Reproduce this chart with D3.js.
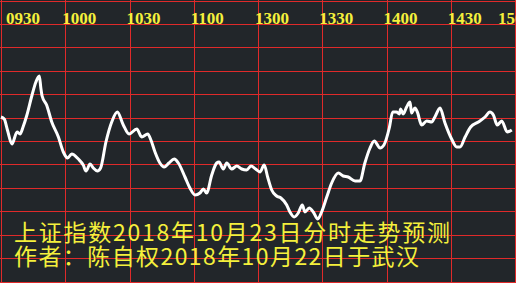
<!DOCTYPE html>
<html>
<head>
<meta charset="utf-8">
<script src="https://cdn.jsdelivr.net/npm/d3@7"></script>
<style>
  html, body { margin: 0; padding: 0; background: #22262a; }
  svg { display: block; }
</style>
</head>
<body>
<div id="chart"></div>
<script>
"use strict";

// time axis labels (every 30 min of the session)
var timeLabels = ["0930", "1000", "1030", "1100", "1300", "1330", "1400", "1430", "1500"];

// minutes since 09:30 (trading minutes) and predicted index level
var minutes = [0, 1.5, 3, 5.1, 7.5, 8.9, 10.3, 12.1, 14.5, 16.3, 17.9, 18.6, 19.2,
  21.3, 23.7, 26.8, 29.1, 31.1, 33.0, 36.1, 38.4, 39.7, 41.6, 43.1, 45.0, 46.5,
  49.0, 51.7, 54.3, 57.1, 59.8, 63.4, 65.7, 68.5, 70.0, 71.9, 74.2, 76.2, 78.4,
  80.9, 82.8, 85.9, 88.2, 90.6, 92.9, 94.5, 96.0, 98.4, 100.7, 101.8, 103.8,
  105.4, 107.7, 110.1, 112.4, 114.7, 116.7, 118.9, 120.9, 122.9, 124.5, 126.4,
  128.7, 130.7, 133.4, 134.9, 136.9, 138.8, 140.7, 141.9, 143.9, 145.8, 147.9,
  149.7, 152.1, 154.4, 157.5, 159.8, 162.1, 165.3, 167.6, 169.9, 172.3, 174.3,
  177.0, 178.8, 181.3, 182.9, 184.7, 186.0, 186.6, 187.8, 189.4, 191.0, 191.7,
  193.3, 194.4, 196.4, 198.8, 201.1, 202.6, 205.0, 207.3, 210.4, 212.8, 214.3,
  216.7, 219.3, 222.9, 226.0, 228.3, 229.9, 231.7, 233.8, 236.4, 238.5];

var levels = [2583, 2581, 2570, 2556, 2568, 2566, 2573, 2585, 2605, 2618, 2624, 2612, 2604,
  2595, 2578, 2563, 2548, 2542, 2546, 2541, 2535, 2529, 2536, 2532, 2529, 2532,
  2558, 2578, 2588, 2575, 2566, 2571, 2563, 2566, 2560, 2548, 2537, 2533, 2537,
  2541, 2537, 2523, 2512, 2505, 2507, 2511, 2507, 2525, 2537, 2538, 2531,
  2537, 2531, 2534, 2531, 2530, 2534, 2531, 2528, 2535, 2523, 2510,
  2504, 2502, 2495, 2488, 2483, 2487, 2495, 2488, 2492, 2488, 2481,
  2488, 2503, 2517, 2527, 2524, 2523, 2519, 2519, 2537, 2552, 2559,
  2552, 2555, 2572, 2588, 2588, 2586, 2591, 2586, 2593, 2598, 2587,
  2592, 2588, 2575, 2579, 2578, 2583, 2592, 2577, 2561, 2553, 2553,
  2563, 2573, 2578, 2583, 2588, 2585, 2575, 2579, 2568, 2570];

var titleLines = ["上证指数2018年10月23日分时走势预测", "作者：陈自权2018年10月22日于武汉"];

var width = 516, height = 283;

var svg = d3.select("#chart")
  .append("svg")
  .attr("width", width)
  .attr("height", height);

svg.append("rect")
  .attr("width", width)
  .attr("height", height)
  .attr("fill", "#22262a");

var x = d3.scaleLinear().domain([0, 240]).range([1, 515]);
var y = d3.scaleLinear().domain([2417, 2700]).range([283, 0]);
var rows = d3.scaleLinear().domain([0, 12]).range([0.5, 281.5]);

// grid
svg.append("g")
  .selectAll("line")
  .data(d3.range(0, 241, 30))
  .enter()
  .append("line")
  .attr("x1", function (d) { return Math.round(x(d)) + 0.5; })
  .attr("x2", function (d) { return Math.round(x(d)) + 0.5; })
  .attr("y1", 0)
  .attr("y2", height)
  .attr("stroke", "#e02a2a")
  .attr("stroke-width", 1);

svg.append("g")
  .selectAll("line")
  .data(d3.range(13))
  .enter()
  .append("line")
  .attr("x1", 0)
  .attr("x2", width)
  .attr("y1", function (d) { return Math.round(rows(d)) + 0.5; })
  .attr("y2", function (d) { return Math.round(rows(d)) + 0.5; })
  .attr("stroke", "#e02a2a")
  .attr("stroke-width", 1);

// time labels
svg.append("g")
  .selectAll("text")
  .data(timeLabels)
  .enter()
  .append("text")
  .attr("x", function (d, i) {
    var px = x(i * 30) - 3;
    return Math.min(Math.max(px, 6), width - 18);
  })
  .attr("y", 24)
  .attr("fill", "#f4f03c")
  .style("font-family", "'Liberation Serif', serif")
  .style("font-weight", "bold")
  .style("font-size", "17px")
  .text(function (d) { return d; });

// the forecast line
var pts = minutes.map(function (m, i) { return [m, levels[i]]; });

var line = d3.line()
  .x(function (d) { return x(d[0]); })
  .y(function (d) { return y(d[1]); })
  .curve(d3.curveMonotoneX);

svg.append("path")
  .datum(pts)
  .attr("d", line)
  .attr("fill", "none")
  .attr("stroke", "#ffffff")
  .attr("stroke-width", 3)
  .attr("stroke-linejoin", "round");

// caption
var capLen = [436, 405];
svg.append("g")
  .selectAll("text")
  .data(titleLines)
  .enter()
  .append("text")
  .attr("x", 14)
  .attr("y", function (d, i) { return 241 + i * 24; })
  .attr("textLength", function (d, i) { return capLen[i]; })
  .attr("lengthAdjust", "spacing")
  .attr("fill", "#f4f03c")
  .style("font-family", "'Noto Sans CJK SC', sans-serif")
  .style("font-size", "23px")
  .text(function (d) { return d; });
</script>
</body>
</html>
